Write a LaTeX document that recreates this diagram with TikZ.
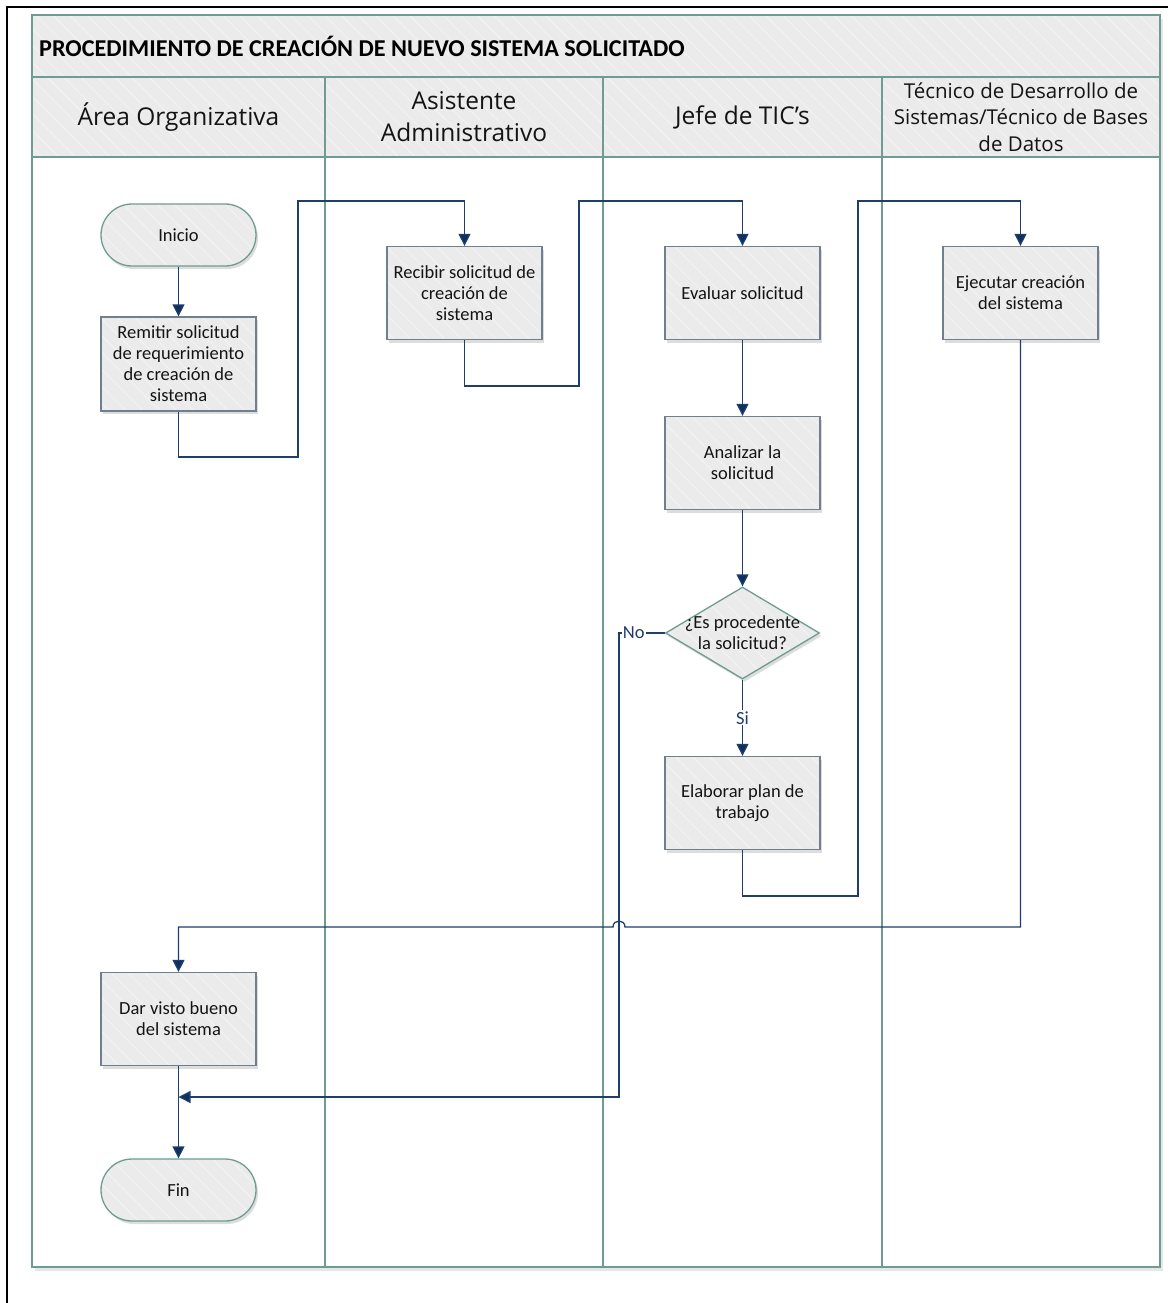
\documentclass[tikz,border=0pt]{standalone}
\usepackage{fontspec}
\setmainfont{Carlito}
\newfontfamily\hdrfont{Open Sans}
\usetikzlibrary{arrows.meta,shapes.geometric,shadows,patterns.meta}
\definecolor{poolc}{HTML}{6E9C92}
\definecolor{boxc}{HTML}{717E8E}
\definecolor{fillc}{HTML}{EBEBEB}
\definecolor{stripec}{HTML}{F3F3F3}
\definecolor{lnc}{HTML}{1E3E6C}
\definecolor{tipc}{HTML}{0F2F5E}
\definecolor{txtc}{HTML}{141414}
\begin{document}
\begin{tikzpicture}[x=1pt,y=-1pt,
  stripefill/.style={preaction={fill=fillc},preaction={pattern={Lines[angle=-45,distance=12pt,line width=1pt]},pattern color=stripec}},
  shade1/.style={drop shadow={shadow xshift=2pt,shadow yshift=-3pt,opacity=0.22,fill=black!60}},
  boxnode/.style={rectangle,shade1,stripefill,draw=boxc,line width=1.3pt,
    minimum width=155,minimum height=93,inner sep=0pt,align=center,text=txtc,
    font=\fontsize{18.5}{21}\selectfont},
  termnode/.style={rectangle,rounded corners=31pt,shade1,stripefill,draw=poolc,line width=1.3pt,
    minimum width=155,minimum height=62,inner sep=0pt,align=center,text=txtc,
    font=\fontsize{18.5}{21}\selectfont},
  decnode/.style={diamond,shade1,stripefill,draw=poolc,line width=1.3pt,
    minimum width=154,minimum height=92,inner sep=0pt,aspect=1.67},
  txtnode/.style={align=center,text=txtc,inner sep=0pt,font=\fontsize{18.5}{21}\selectfont},
  hdrnode/.style={align=center,text=txtc,inner sep=0pt,font=\hdrfont\fontsize{24.5}{32}\selectfont},
  conn/.style={draw=lnc,line width=1.3pt},
  arr/.style={conn,-{Triangle[width=12pt,length=12pt,fill=tipc]}},
  lbl/.style={fill=white,inner sep=1pt,text=lnc,font=\fontsize{18.5}{21}\selectfont},
  poolline/.style={draw=poolc,line width=2pt}
]
\useasboundingbox (0,0) rectangle (1171,1303);
% page border
\draw[black,line width=2.2pt] (7,1303) -- (7,7) -- (1168,7);
% pool
\path[fill=white,drop shadow={shadow xshift=3pt,shadow yshift=-4pt,opacity=0.2,fill=black!50}] (32,15) rectangle (1160,1267);
\path[stripefill] (32,15) rectangle (1160,157);
\draw[poolline] (32,77) -- (1160,77);
\draw[poolline] (32,157) -- (1160,157);
\draw[poolline] (325,77) -- (325,1267);
\draw[poolline] (603,77) -- (603,1267);
\draw[poolline] (882,77) -- (882,1267);
\draw[poolline] (32,15) rectangle (1160,1267);
% title and headers
\node[anchor=west,text=black,inner sep=0pt,font=\bfseries\fontsize{24.2}{28}\selectfont] (title) at (39,46) {PROCEDIMIENTO DE CREACIÓN DE NUEVO SISTEMA SOLICITADO};
\node[hdrnode] (h1) at (178.5,117) {Área Organizativa};
\node[hdrnode] (h2) at (464,117) {Asistente\\Administrativo};
\node[hdrnode] (h3) at (742.5,117) {Jefe de TIC’s};
\node[hdrnode,font=\hdrfont\fontsize{20.5}{26.5}\selectfont] (h4) at (1021,117) {Técnico de Desarrollo de\\Sistemas/Técnico de Bases\\de Datos};
% nodes
\node[termnode] (inicio) at (178.5,235) {Inicio};
\node[boxnode,minimum height=94] (remitir) at (178.5,364) {Remitir solicitud\\de requerimiento\\de creación de\\sistema};
\node[boxnode] (recibir) at (464.5,293) {Recibir solicitud de\\creación de\\sistema};
\node[boxnode] (evaluar) at (742.5,293) {Evaluar solicitud};
\node[boxnode] (analizar) at (742.5,463) {Analizar la\\solicitud};
\node[decnode] (dec) at (742.5,633) {};
\node[txtnode] (dectxt) at (742.5,633) {¿Es procedente\\la solicitud?};
\node[boxnode] (elaborar) at (742.5,803) {Elaborar plan de\\trabajo};
\node[boxnode] (ejecutar) at (1020.5,293) {Ejecutar creación\\del sistema};
\node[boxnode] (dar) at (178.5,1019) {Dar visto bueno\\del sistema};
\node[termnode] (fin) at (178.5,1190) {Fin};
% coordinates
\coordinate (a1) at (178.5,457);
\coordinate (a2) at (298,457);
\coordinate (a3) at (298,201);
\coordinate (b1) at (464.5,386);
\coordinate (b2) at (579,386);
\coordinate (b3) at (579,201);
\coordinate (e1) at (742.5,896);
\coordinate (e2) at (858,896);
\coordinate (e3) at (858,201);
\coordinate (j1) at (1020.5,927);
\coordinate (hopR) at (625,927);
\coordinate (hopL) at (613,927);
\coordinate (j2) at (178.5,927);
\coordinate (n1) at (619,633);
\coordinate (n2) at (619,1097);
\coordinate (nend) at (178.5,1097);
% connectors
\draw[arr] (inicio) -- (remitir);
\draw[arr] (remitir.south) -- (a1) -- (a2) -- (a3) -| (recibir.north);
\draw[arr] (recibir.south) -- (b1) -- (b2) -- (b3) -| (evaluar.north);
\draw[arr] (evaluar) -- (analizar);
\draw[arr] (analizar.south) -- (dec.north);
\draw[arr] (dec.south) -- node[lbl,pos=0.5] (si) {Si} (elaborar.north);
\draw[arr] (elaborar.south) -- (e1) -- (e2) -- (e3) -| (ejecutar.north);
\draw[arr] (ejecutar.south) -- (j1) -- (hopR) .. controls (625,919) and (613,919) .. (hopL) -- (j2) -- (dar.north);
\draw[arr] (dec.west) -- node[lbl,pos=0.68] (no) {No} (n1) -- (n2) -- (nend);
\draw[arr] (dar) -- (fin);
\end{tikzpicture}
\end{document}
